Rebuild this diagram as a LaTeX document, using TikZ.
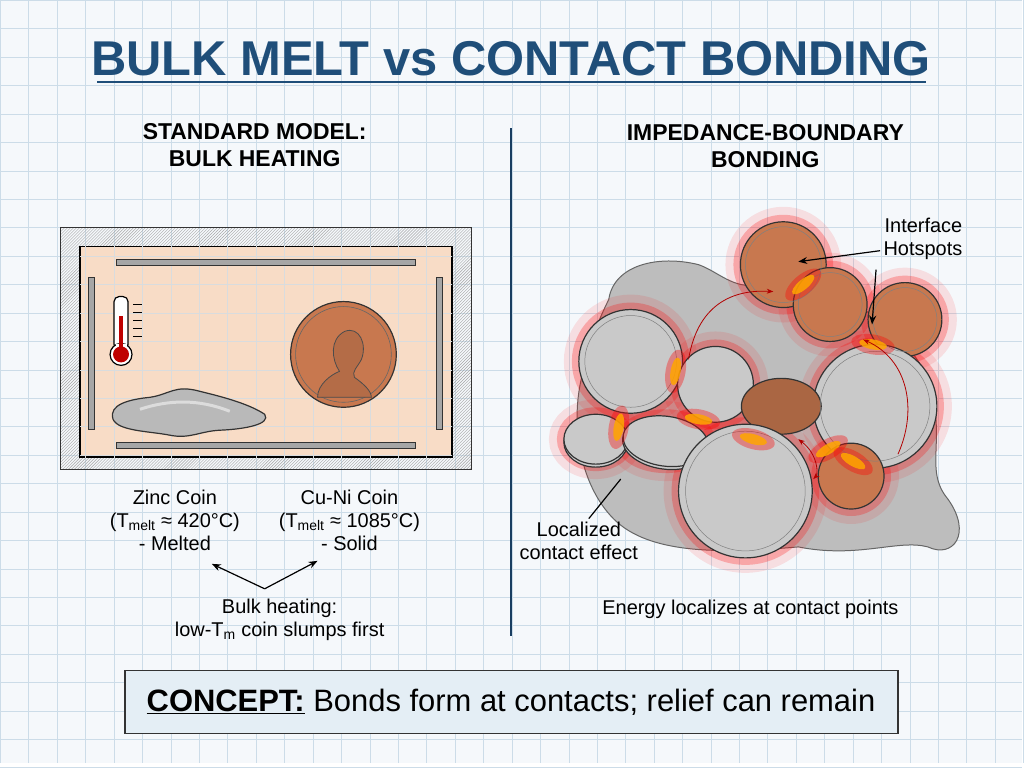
\documentclass[tikz,border=0pt]{standalone}
\usepackage{fontspec}
\setmainfont{Liberation Sans}
\usetikzlibrary{patterns,arrows.meta}
\definecolor{bg}{HTML}{F5F8FB}
\definecolor{gridc}{HTML}{CCDCE8}
\definecolor{navy}{HTML}{1F4E79}
\definecolor{peach}{HTML}{F8DCC6}
\definecolor{copper}{HTML}{C8784F}
\definecolor{silver}{HTML}{C9C9C9}
\definecolor{blob}{HTML}{BDBDBD}
\definecolor{conc}{HTML}{E4EEF5}
\begin{document}
\begin{tikzpicture}[x=1pt,y=-1pt,
  lbl/.style={font=\fontsize{20}{23}\selectfont,align=center},
  sub/.style={font=\bfseries\fontsize{23}{27}\selectfont,align=center},
  bar/.style={fill=gray!70,draw=black!80,line width=0.8},
  penny/.style={fill=copper,draw=black!80,line width=1.2},
  coin/.style={fill=silver,draw=black!80,line width=1.2},
  glow/.style={draw=red,line width=30,opacity=0.10},
  glow2/.style={draw=red,line width=14,opacity=0.25},
  hot/.style={fill=orange!70!yellow,opacity=0.85},
  arr/.style={-{Stealth[length=9pt,width=7pt]},line width=1.2}]
\fill[bg] (0,0) rectangle (1024,765);
\foreach \i in {0,...,36} {\draw[gridc,line width=0.7] (\i*28.5,0) -- (\i*28.5,765);}
\foreach \i in {0,...,27} {\draw[gridc,line width=0.7] (0,\i*28.5) -- (1024,\i*28.5);}
\useasboundingbox (0,0) rectangle (1024,765);
% title
\node[font=\bfseries\fontsize{49}{52}\selectfont,text=navy] (title) at (512,58) {BULK MELT vs CONTACT BONDING};
\draw[navy,line width=2.5] (97,82) -- (928,82);
\node[sub] (s1) at (255,145) {STANDARD MODEL:\\BULK HEATING};
\node[sub] (s2) at (767,146) {IMPEDANCE-BOUNDARY\\BONDING};
\draw[navy!80!black,line width=1.5] (512,128) -- (512,637);
% left furnace
\draw[pattern=north east lines,pattern color=gray!70,draw=black!80,line width=1] (60,228) rectangle (472,470);
\draw[fill=peach,draw=black,line width=1.5] (80,247) rectangle (453,458);
\begin{scope}
\clip (80,247) rectangle (453,458);
\foreach \i in {0,...,36} {\draw[gridc!70!peach,line width=0.6] (\i*28.5,0) -- (\i*28.5,765);}
\foreach \i in {0,...,27} {\draw[gridc!70!peach,line width=0.6] (0,\i*28.5) -- (1024,\i*28.5);}
\end{scope}
\draw[bar] (116,260) rectangle (416,266);
\draw[bar] (116,443) rectangle (416,449);
\draw[bar] (88,278) rectangle (94,430);
\draw[bar] (437,278) rectangle (443,430);
% thermometer
\draw[fill=white,draw=black,line width=1.2,rounded corners=5] (114,297) rectangle (128,350);
\draw[fill=white,draw=black,line width=1.2] (121,355) circle (11);
\fill[white] (115.5,345) rectangle (126.5,352);
\fill[red!75!black] (119,316) rectangle (123,352);
\fill[red!75!black] (121,355) circle (8);
\foreach \yy in {305,313,321,329,337} \draw[line width=1.3] (133,\yy) -- (142,\yy);
% puddle
\draw[fill=gray!55,draw=black!80,line width=1.2] (113,420) .. controls (108,405) and (130,400) .. (150,398) .. controls (170,395) and (175,385) .. (200,392) .. controls (225,398) and (250,405) .. (265,415) .. controls (272,425) and (245,430) .. (220,431) .. controls (200,432) and (190,440) .. (170,436) .. controls (150,432) and (118,432) .. (113,420) -- cycle;
\draw[white,opacity=0.5,line width=3] (140,410) .. controls (170,400) and (200,400) .. (230,412);
% penny
\draw[penny] (344,355) circle (53);
\draw[black!60,line width=0.6] (344,355) circle (48);
\draw[black!70,line width=0.8,fill=copper!90!black] (318,398) .. controls (318,385) and (332,375) .. (340,372) .. controls (332,360) and (330,340) .. (345,332) .. controls (360,326) and (368,345) .. (362,360) .. controls (358,368) and (352,372) .. (355,378) .. controls (365,385) and (372,392) .. (372,398) -- cycle;
% labels left
\node[lbl] (zinc) at (175,521) {Zinc Coin\\(T\textsubscript{melt} ≈ 420°C)\\- Melted};
\node[lbl] (cuni) at (350,521) {Cu-Ni Coin\\(T\textsubscript{melt} ≈ 1085°C)\\- Solid};
\node[lbl] (bulk) at (280,621) {Bulk heating:\\low-T\textsubscript{m} coin slumps first};
\coordinate (fork) at (265,590);
\draw[arr] (fork) -- (212,565);
\draw[arr] (fork) -- (318,562);
% right blob
\draw[fill=blob,draw=black!60,line width=1] (610,300) .. controls (615,265) and (660,255) .. (700,265) .. controls (720,272) and (735,290) .. (760,285) .. controls (800,270) and (900,310) .. (930,380) .. controls (950,440) and (925,470) .. (950,500) .. controls (975,535) and (955,560) .. (930,548) .. controls (900,540) and (860,560) .. (800,548) .. controls (720,555) and (650,555) .. (615,520) .. controls (580,485) and (570,420) .. (585,370) .. controls (592,340) and (600,320) .. (610,300) -- cycle;
% glow
\foreach \s in {glow,glow2}{
\draw[\s] (785,265) circle (43);
\draw[\s] (832,305) circle (37);
\draw[\s] (907,320) circle (37);
\draw[\s] (632,362) circle (52);
\draw[\s] (717,385) circle (38);
\draw[\s] (877,407) circle (62);
\draw[\s] (747,492) circle (67);
\draw[\s] (853,477) circle (33);
\draw[\s] (597,440) ellipse (32 and 25);
\draw[\s] (667,442) ellipse (43 and 25);}
% coins
\draw[penny] (785,265) circle (43);
\draw[penny] (907,320) circle (37);
\draw[penny] (832,305) circle (37);
\draw[coin] (632,362) circle (52);
\draw[coin] (877,407) circle (62);
\draw[coin] (717,385) circle (38);
\draw[penny,fill=copper!85!black] (783,407) ellipse (40 and 28);
\draw[coin] (597,443) ellipse (32 and 25);
\draw[coin] (597,440) ellipse (32 and 25);
\draw[coin,rotate around={-8:(667,442)}] (667,445) ellipse (43 and 25);
\draw[coin,rotate around={-8:(667,442)}] (667,442) ellipse (43 and 25);
\draw[penny] (853,477) circle (33);
\draw[coin] (747,492) circle (67);
\foreach \c/\r in {{(785,265)}/38,{(907,320)}/32,{(832,305)}/32,{(632,362)}/46,{(877,407)}/55,{(747,492)}/60}
  \draw[black!50,line width=0.5] \c circle (\r);
% hotspots
\foreach \p/\a in {{(805,285)}/40,{(875,345)}/-10,{(677,372)}/80,{(755,440)}/-15,{(830,450)}/30,{(620,428)}/80,{(855,462)}/-30,{(700,420)}/-10}
  {\fill[red,opacity=0.35,rotate around={\a:\p}] \p ellipse (22 and 10);
   \fill[hot,rotate around={\a:\p}] \p ellipse (14 and 5);}
% heat arcs
\draw[red!70!black,line width=0.8,-Stealth] (690,360) .. controls (700,300) and (740,290) .. (775,292);
\draw[red!70!black,line width=0.8,-Stealth] (900,455) .. controls (920,410) and (910,360) .. (865,340);
\draw[red!70!black,line width=0.8,Stealth-Stealth] (800,440) .. controls (820,455) and (820,475) .. (815,480);
% labels right
\node[lbl,align=right] (hot) at (925,239) {Interface\\Hotspots};
\draw[arr] (hot.west) ++(0,12) -- (800,262);
\draw[arr] (878,270) -- (874,325);
\node[lbl] (loc) at (580,542) {Localized\\contact effect};
\draw[line width=1.2] (loc.north) ++(10,0) -- (622,480);
\node[lbl] (energy) at (752,611) {Energy localizes at contact points};
% concept
\draw[fill=conc,draw=black!80,line width=1.5] (125,672) rectangle (900,735);
\node[font=\fontsize{31}{34}\selectfont] (concept) at (512,704) {\textbf{\underline{CONCEPT:}} Bonds form at contacts; relief can remain};
\end{tikzpicture}
\end{document}
